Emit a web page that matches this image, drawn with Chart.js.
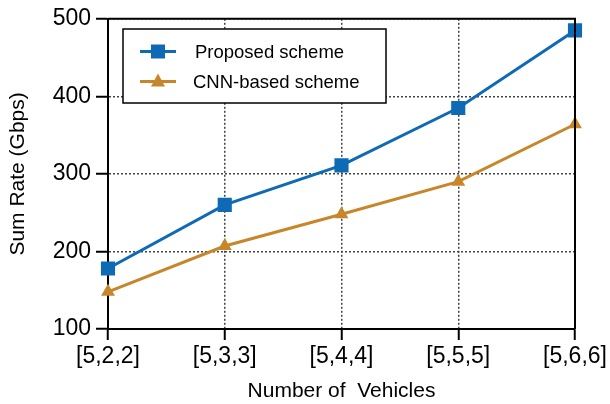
<!DOCTYPE html>
<html>
<head>
<meta charset="utf-8">
<script src="https://cdn.jsdelivr.net/npm/chart.js@4"></script>
<style>
  html, body { margin: 0; padding: 0; background: #fff; }
  #wrap { width: 610px; height: 404px; }
</style>
</head>
<body>
<div id="wrap"><canvas id="chart" width="610" height="404"></canvas></div>
<script>
// data
const vehicleLabels = ['[5,2,2]', '[5,3,3]', '[5,4,4]', '[5,5,5]', '[5,6,6]'];
const proposedRate = [178, 260, 311, 385, 485];
const cnnRate = [148, 207, 248, 290, 364];
const yTicks = [100, 200, 300, 400, 500];

const FONT = "'Liberation Sans', Arial, sans-serif";
const BLUE = '#0f6ab6';
const ORANGE = '#c8862a';

// black frame on top/right + legend box inside the plot
const framePlugin = {
    id: 'frame',
    afterDraw(chart) {
        const { ctx, chartArea: a } = chart;
        ctx.save();
        ctx.strokeStyle = '#000';
        ctx.lineWidth = 2;
        ctx.beginPath();
        ctx.moveTo(a.left, a.top);
        ctx.lineTo(a.right, a.top);
        ctx.lineTo(a.right, a.bottom);
        ctx.stroke();

        // legend
        const bx = 123, by = 29, bw = 263, bh = 74;
        ctx.fillStyle = '#fff';
        ctx.fillRect(bx, by, bw, bh);
        ctx.lineWidth = 1.5;
        ctx.strokeRect(bx, by, bw, bh);
        chart.data.datasets.forEach((ds, i) => {
            const y = 51.5 + i * 30;
            ctx.strokeStyle = ds.borderColor;
            ctx.lineWidth = 3;
            ctx.beginPath();
            ctx.moveTo(140, y);
            ctx.lineTo(176, y);
            ctx.stroke();
            ctx.fillStyle = ds.borderColor;
            if (ds.pointStyle === 'rect') {
                ctx.fillRect(151, y - 7, 14, 14);
            } else {
                ctx.beginPath();
                ctx.moveTo(158, y - 8);
                ctx.lineTo(165, y + 5);
                ctx.lineTo(151, y + 5);
                ctx.closePath();
                ctx.fill();
            }
            ctx.fillStyle = '#000';
            ctx.font = '18.5px ' + FONT;
            ctx.textBaseline = 'middle';
            ctx.fillText(ds.label, i === 0 ? 195 : 193, y + 1);
        });
        ctx.restore();
    }
};

new Chart(document.getElementById('chart'), {
    type: 'line',
    data: {
        labels: vehicleLabels,
        datasets: [
            {
                label: 'Proposed scheme',
                data: proposedRate,
                borderColor: BLUE,
                backgroundColor: BLUE,
                borderWidth: 3,
                pointStyle: 'rect',
                pointRadius: 10,
                pointBorderWidth: 0,
                fill: false,
                tension: 0
            },
            {
                label: 'CNN-based scheme',
                data: cnnRate,
                borderColor: ORANGE,
                backgroundColor: ORANGE,
                borderWidth: 3,
                pointStyle: 'triangle',
                pointRadius: 8,
                pointBorderWidth: 0,
                fill: false,
                tension: 0
            }
        ]
    },
    options: {
        responsive: false,
        animation: false,
        layout: { padding: { top: 17, right: 35, left: 0, bottom: 0 } },
        plugins: { legend: { display: false }, tooltip: { enabled: false } },
        scales: {
            x: {
                offset: false,
                grid: {
                    color: '#444',
                    lineWidth: 1.5,
                    drawTicks: true,
                    tickLength: 11,
                    tickColor: '#000',
                    tickWidth: 2
                },
                border: { display: true, color: '#000', width: 2, dash: [2, 2] },
                ticks: { color: '#000', font: { family: FONT, size: 23 }, padding: 3, maxRotation: 0 },
                title: {
                    display: true,
                    text: 'Number of  Vehicles',
                    color: '#000',
                    font: { family: FONT, size: 21 },
                    padding: { top: 4, bottom: 0 }
                },
                afterFit(scale) { scale.height = 75; }
            },
            y: {
                min: 100,
                max: 500,
                afterBuildTicks(scale) { scale.ticks = yTicks.map(v => ({ value: v })); },
                grid: {
                    color: '#444',
                    lineWidth: 1.5,
                    drawTicks: true,
                    tickLength: 12,
                    tickColor: '#000',
                    tickWidth: 2
                },
                border: { display: true, color: '#000', width: 2, dash: [2, 2] },
                ticks: { color: '#000', font: { family: FONT, size: 23 }, padding: 5 },
                title: {
                    display: true,
                    text: 'Sum Rate (Gbps)',
                    color: '#000',
                    font: { family: FONT, size: 21 },
                    padding: { top: 5.5, bottom: 0 }
                },
                afterFit(scale) { scale.width = 108; }
            }
        }
    },
    plugins: [framePlugin]
});
</script>
</body>
</html>
